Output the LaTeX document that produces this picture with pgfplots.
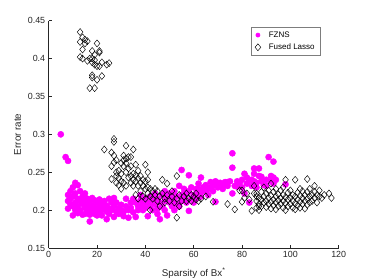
\documentclass[border=0pt]{standalone}
\usepackage{fontspec}
\setmainfont{Liberation Sans}
\usepackage{pgfplots}
\pgfplotsset{compat=1.18}
\definecolor{axgray}{rgb}{0.15,0.15,0.15}
\definecolor{mag}{rgb}{1,0,1}
\begin{document}
\begin{tikzpicture}
\begin{axis}[
  scale only axis, width=290pt, height=227.3pt,
  xmin=0, xmax=120, ymin=0.15, ymax=0.45,
  axis x line*=bottom, axis y line*=left,
  axis line style={-, draw=axgray, line width=0.5pt},
  tick align=inside, major tick length=3pt,
  tick style={draw=axgray, line width=0.5pt},
  xtick={0,20,...,120},
  ytick={0.15,0.2,0.25,0.3,0.35,0.4,0.45},
  yticklabels={0.15,0.2,0.25,0.3,0.35,0.4,0.45},
  /pgf/number format/assume math mode=true,
  tick label style={font=\fontsize{8.9}{10}\selectfont, text=axgray},
  xlabel={Sparsity of Bx\textsuperscript{*}},
  ylabel={Error rate},
  xlabel style={yshift=-3pt},
  label style={font=\fontsize{9.8}{11}\selectfont, text=axgray},
  legend style={at={(0.6986,0.971)}, anchor=north west, draw=axgray!60, line width=0.5pt,
    font=\fontsize{8}{9.5}\selectfont, cells={anchor=west}, row sep=1pt, column sep=6pt,
    inner xsep=3.5pt, inner ysep=2pt},
  legend cell align=left,
  clip=false,
]
\addplot[only marks, mark=*, mark size=3.1pt, mark options={draw=mag, fill=mag},
  legend image code/.code={\fill[mag] (0.3cm,0cm) circle (2.1pt);}] coordinates {
(5,0.300)(7,0.270)(8,0.265)
(8,0.202)(8,0.212)(8,0.220)(9,0.215)(9,0.225)(9,0.208)(10,0.193)(10,0.218)(10,0.230)(10,0.205)
(11,0.236)(11,0.222)(11,0.210)(11,0.200)(12,0.233)(12,0.215)(12,0.205)(12,0.196)(13,0.225)(13,0.212)
(13,0.200)(14,0.218)(14,0.208)(14,0.194)(15,0.222)(15,0.212)(15,0.203)(15,0.195)(16,0.215)(16,0.207)
(16,0.198)(17,0.185)(17,0.212)(17,0.202)(17,0.194)(18,0.216)(18,0.206)(18,0.198)(19,0.213)(19,0.203)
(19,0.195)(20,0.210)(20,0.200)(20,0.193)(21,0.214)(21,0.205)(21,0.197)(22,0.208)(22,0.200)(22,0.193)
(23,0.212)(23,0.203)(24,0.188)(24,0.206)(24,0.198)(25,0.215)(25,0.202)(25,0.195)(26,0.210)(26,0.200)
(27,0.191)(27,0.216)(27,0.205)(28,0.210)(28,0.198)(29,0.203)(29,0.195)(30,0.207)(30,0.200)(31,0.198)
(31,0.192)(32,0.215)(32,0.205)(33,0.190)(33,0.200)(34,0.210)(34,0.203)(35,0.215)(35,0.197)(36,0.191)
(36,0.210)(37,0.205)(37,0.200)(38,0.213)(38,0.205)(39,0.200)(39,0.208)(40,0.215)(40,0.203)(41,0.192)
(41,0.210)(42,0.205)(42,0.218)(43,0.200)(43,0.212)(44,0.208)(44,0.222)(45,0.215)(45,0.202)(46,0.188)
(46,0.210)(47,0.220)(47,0.205)(48,0.212)(48,0.200)(49,0.193)(49,0.218)(50,0.210)(50,0.222)(51,0.205)
(51,0.215)(52,0.225)(52,0.212)(53,0.208)(53,0.218)(54,0.232)(54,0.205)(55,0.253)(55,0.220)(55,0.212)
(56,0.228)(56,0.215)(57,0.222)(57,0.210)(58,0.246)(58,0.199)(58,0.225)(59,0.215)(59,0.230)(60,0.220)
(60,0.210)(61,0.228)(61,0.215)(62,0.235)(62,0.222)(63,0.243)(63,0.218)(64,0.230)(64,0.225)(65,0.233)
(66,0.228)(66,0.220)(67,0.237)(68,0.225)(68,0.232)(69,0.211)(69,0.238)(70,0.230)(71,0.236)(72,0.228)
(73,0.237)(74,0.232)(75,0.238)(76,0.275)(76,0.256)(76,0.222)(77,0.232)(78,0.238)(79,0.236)(80,0.240)
(80,0.230)(81,0.248)(81,0.222)(82,0.243)(82,0.235)(83,0.210)(83,0.240)(84,0.232)(85,0.255)(85,0.248)
(85,0.238)(86,0.230)(87,0.255)(87,0.245)(88,0.238)(89,0.233)(90,0.240)(91,0.270)(92,0.245)(93,0.264)
(93,0.243)(94,0.240)(98,0.234)
(62,0.228)(65,0.226)(67,0.230)(70,0.236)(72,0.233)(74,0.237)(78,0.231)(84,0.240)(86,0.236)(88,0.244)
(90,0.232)(92,0.238)(93,0.235)(38,0.220)(44,0.215)(48,0.225)(52,0.218)(56,0.222)(45,0.195)(52,0.200)
};
\addlegendentry{FZNS}
\addplot[only marks, mark=diamond, mark size=3.5pt, mark options={draw=black, line width=0.45pt, fill=none, xscale=1.1}] coordinates {
(13,0.435)(13,0.422)(14,0.428)(15,0.425)(16,0.423)(15,0.420)(14,0.412)(13,0.402)(14,0.400)(16,0.397)
(17,0.400)(18,0.410)(19,0.405)(20,0.420)(21,0.410)(21,0.408)(18,0.395)(19,0.392)(20,0.390)(21,0.390)
(22,0.395)(24,0.392)(25,0.394)(18,0.378)(18,0.375)(20,0.372)(22,0.377)(17,0.361)(19,0.361)(18,0.400)(19,0.398)
(23,0.280)(26,0.276)(26,0.258)(26,0.241)(27,0.294)(27,0.290)(27,0.272)(27,0.263)(28,0.266)(28,0.250)
(28,0.245)(28,0.236)(29,0.252)(29,0.242)(29,0.233)(30,0.262)(30,0.248)(30,0.238)(30,0.228)(31,0.272)
(31,0.266)(31,0.258)(31,0.236)(32,0.285)(32,0.268)(32,0.262)(32,0.250)(32,0.232)(33,0.270)(33,0.255)
(33,0.243)(34,0.270)(34,0.258)(34,0.245)(34,0.236)(35,0.280)(35,0.248)(35,0.240)(35,0.232)(36,0.260)
(36,0.246)(36,0.238)(37,0.252)(37,0.242)(37,0.232)(38,0.245)(38,0.236)(39,0.240)(39,0.232)(40,0.260)
(40,0.238)(41,0.250)(41,0.240)
(36,0.220)(37,0.215)(38,0.225)(39,0.218)(40,0.228)(40,0.215)(41,0.230)(41,0.222)(42,0.228)(42,0.200)
(42,0.218)(43,0.225)(43,0.215)(44,0.220)(44,0.228)(45,0.212)(45,0.225)(46,0.218)(46,0.205)(47,0.240)
(47,0.222)(48,0.215)(48,0.210)(49,0.235)(49,0.220)(50,0.212)(51,0.218)(51,0.225)(52,0.210)(53,0.245)
(53,0.190)(53,0.215)(54,0.205)(54,0.220)(55,0.212)(56,0.218)(57,0.222)(58,0.215)(59,0.212)(60,0.218)
(61,0.222)(62,0.212)(63,0.215)(65,0.218)(68,0.211)(74,0.208)(77,0.201)(79,0.226)(80,0.211)(82,0.222)
(84,0.199)(85,0.232)(86,0.218)(87,0.200)(87,0.205)(80,0.226)(81,0.216)(83,0.214)(85,0.222)
(57,0.212)(59,0.220)(61,0.214)
(86,0.203)(86,0.212)(86,0.222)(87,0.208)(87,0.216)(88,0.205)(88,0.214)(88,0.224)(89,0.210)(89,0.218)
(89,0.230)(90,0.204)(90,0.212)(90,0.222)(91,0.208)(91,0.216)(91,0.226)(92,0.202)(92,0.211)(92,0.219)
(92,0.235)(93,0.206)(93,0.214)(93,0.224)(94,0.201)(94,0.210)(94,0.218)(94,0.228)(95,0.205)(95,0.213)
(95,0.221)(96,0.208)(96,0.216)(96,0.226)(97,0.203)(97,0.212)(97,0.220)(97,0.230)(98,0.200)(98,0.209)
(98,0.217)(98,0.240)(99,0.205)(99,0.214)(99,0.223)(100,0.208)(100,0.216)(100,0.226)(101,0.203)(101,0.212)
(101,0.220)(102,0.201)(102,0.209)(102,0.218)(102,0.240)(103,0.206)(103,0.214)(103,0.223)(104,0.203)(104,0.211)
(104,0.219)(104,0.228)(105,0.208)(105,0.216)(105,0.225)(106,0.202)(106,0.212)(106,0.220)(107,0.207)(107,0.215)
(107,0.224)(107,0.241)(108,0.210)(108,0.218)(108,0.228)(109,0.212)(109,0.220)(110,0.216)(110,0.224)(110,0.232)
(111,0.210)(111,0.220)(112,0.218)(112,0.226)(113,0.216)(114,0.220)(116,0.222)(117,0.216)
};
\addlegendentry{Fused Lasso}
\end{axis}
\pgfresetboundingbox
\path[use as bounding box] ([shift={(-48.7pt,-32pt)}]current axis.south west) rectangle ([shift={(35.3pt,20.7pt)}]current axis.north east);
\end{tikzpicture}
\end{document}
